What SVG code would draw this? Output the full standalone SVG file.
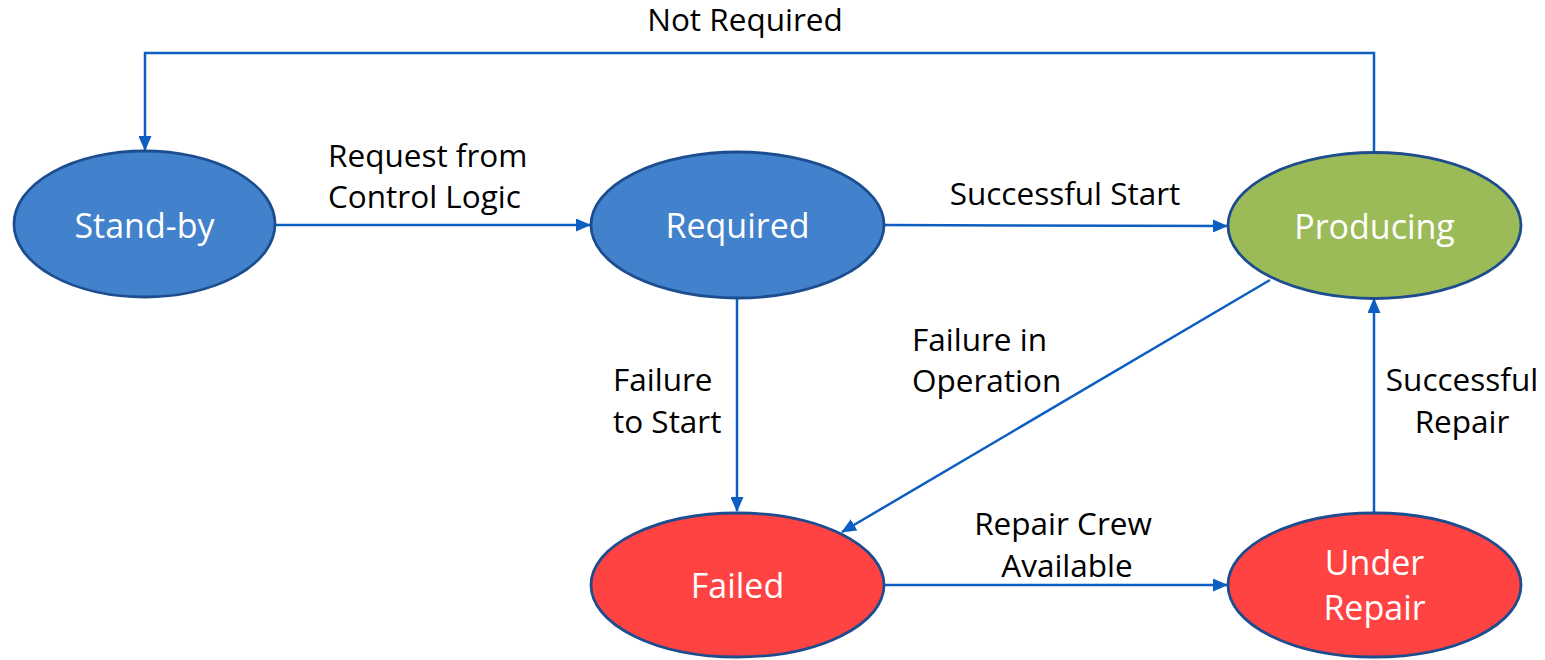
<svg xmlns="http://www.w3.org/2000/svg" width="1545" height="660" viewBox="0 0 1545 660">
  <style>
    .state { stroke: #1d4d8e; stroke-width: 2.8; }
    .blue { fill: #4281cb; }
    .green { fill: #9bbb59; }
    .red { fill: #ff4343; }
    .nlabel { font-family: "Open Sans", "Noto Sans", sans-serif; font-size: 34px; fill: #ffffff; text-anchor: middle; }
    .elabel { font-family: "Open Sans", "Noto Sans", sans-serif; font-size: 31.5px; fill: #000000; }
    .edge { fill: none; stroke: #0d5ec2; stroke-width: 2.5; marker-end: url(#arrow); }
  </style>
  <defs>
    <marker id="arrow" viewBox="0 0 15 13" refX="14" refY="6.5" markerWidth="15" markerHeight="13" markerUnits="userSpaceOnUse" orient="auto">
      <path d="M0,0 L15,6.5 L0,13 Z" fill="#0d5ec2"/>
    </marker>
  </defs>

  <rect width="1545" height="660" fill="#ffffff"/>

  <!-- transitions -->
  <g id="connectors">
    <path class="edge" d="M1374,152 L1374,53 L145,53 L145,150"/>
    <path class="edge" d="M275,225 L590,225"/>
    <path class="edge" d="M884,225 L1227,226"/>
    <path class="edge" d="M737,298 L737,511"/>
    <path class="edge" d="M1270,280 L842,532"/>
    <path class="edge" d="M884,585 L1227,585"/>
    <path class="edge" d="M1374,512 L1374,299"/>
  </g>

  <!-- transition labels -->
  <g id="edge-labels">
    <text class="elabel" x="745" y="31" text-anchor="middle">Not Required</text>
    <text class="elabel" x="328" y="167">Request from</text>
    <text class="elabel" x="328" y="208">Control Logic</text>
    <text class="elabel" x="1065" y="205" text-anchor="middle">Successful Start</text>
    <text class="elabel" x="613" y="391">Failure</text>
    <text class="elabel" x="613" y="433">to Start</text>
    <text class="elabel" x="912" y="351">Failure in</text>
    <text class="elabel" x="912" y="392">Operation</text>
    <text class="elabel" x="1063" y="535" text-anchor="middle">Repair Crew</text>
    <text class="elabel" x="1067" y="577" text-anchor="middle">Available</text>
    <text class="elabel" x="1462" y="391" text-anchor="middle">Successful</text>
    <text class="elabel" x="1462" y="433" text-anchor="middle">Repair</text>
  </g>

  <!-- states -->
  <g id="standby">
    <ellipse class="state blue" cx="144.5" cy="224" rx="130.5" ry="73"/>
    <text class="nlabel" x="144.5" y="238">Stand-by</text>
  </g>
  <g id="required">
    <ellipse class="state blue" cx="737.5" cy="225" rx="146.5" ry="73"/>
    <text class="nlabel" x="737.5" y="238">Required</text>
  </g>
  <g id="producing">
    <ellipse class="state green" cx="1374.5" cy="225.5" rx="146.5" ry="73"/>
    <text class="nlabel" x="1374.5" y="239">Producing</text>
  </g>
  <g id="failed">
    <ellipse class="state red" cx="737.5" cy="585" rx="146.5" ry="72"/>
    <text class="nlabel" x="737.5" y="598">Failed</text>
  </g>
  <g id="under-repair">
    <ellipse class="state red" cx="1374.5" cy="585" rx="146.5" ry="72"/>
    <text class="nlabel" x="1374.5" y="575">Under</text>
    <text class="nlabel" x="1374.5" y="620">Repair</text>
  </g>
</svg>
